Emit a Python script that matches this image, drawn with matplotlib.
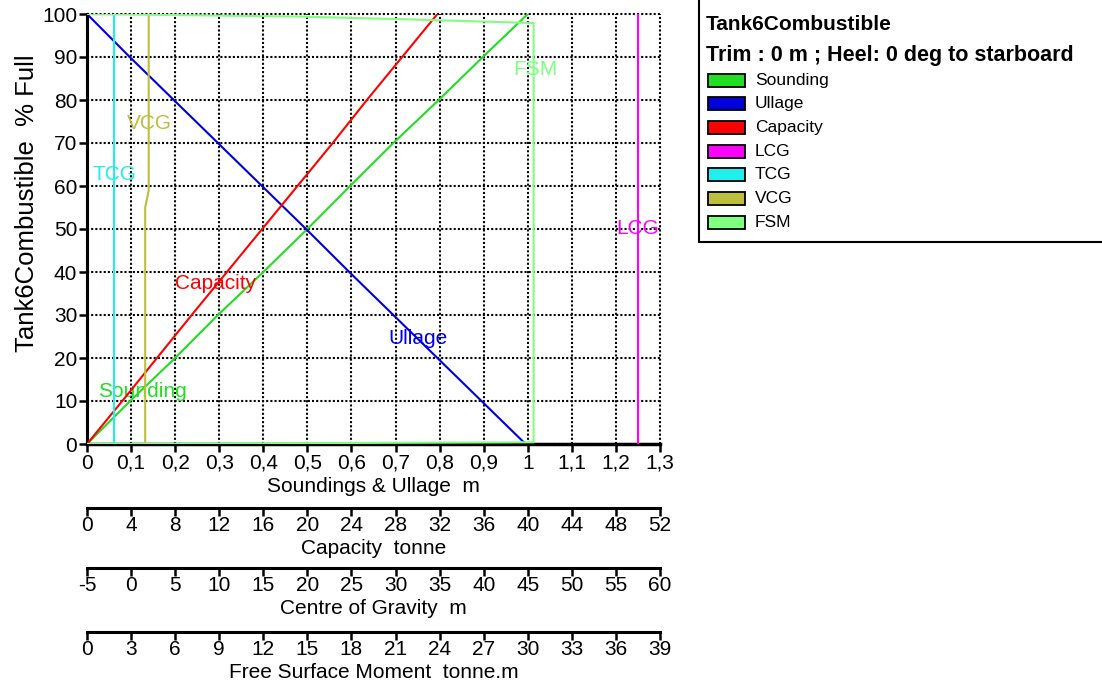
import matplotlib
matplotlib.use("Agg")
import matplotlib.pyplot as plt
from matplotlib.patches import Rectangle

plt.rcParams['font.family'] = ['Liberation Sans', 'DejaVu Sans']

# ---- data ----
pct_full = [0, 10, 20, 30, 40, 50, 60, 70, 80, 90, 100]
sounding_m = [0.0, 0.098, 0.2, 0.297, 0.4, 0.5, 0.597, 0.695, 0.798, 0.898, 1.0]
ullage_m = [0.995, 0.895, 0.795, 0.695, 0.595, 0.497, 0.397, 0.297, 0.197, 0.097, 0.0]
capacity_t = [0.0, 3.2, 6.35, 9.5, 12.7, 15.9, 19.1, 22.3, 25.4, 28.6, 31.8]

cg_pct = [0, 55, 59, 100]
lcg_m = [57.5, 57.5, 57.5, 57.5]
tcg_m = [-1.9, -1.9, -1.9, -1.9]
vcg_m = [1.6, 1.6, 2.0, 2.0]

fsm_pct = [0, 0.4, 97.9, 98.8, 99.4, 100]
fsm_tm = [0.0, 30.4, 30.4, 21.3, 14.5, 0.0]

series_names = ["Sounding", "Ullage", "Capacity", "LCG", "TCG", "VCG", "FSM"]
series_colors = ["#22DD22", "#0000DD", "#FF0000", "#FF00FF", "#22EEEE", "#BDBD3F", "#80FF80"]
col = dict(zip(series_names, series_colors))

x_main_ticks = [i / 10 for i in range(14)]
x_main_labels = ["0", "0,1", "0,2", "0,3", "0,4", "0,5", "0,6", "0,7", "0,8", "0,9",
                 "1", "1,1", "1,2", "1,3"]
cap_ticks = list(range(0, 53, 4))
cog_ticks = list(range(-5, 61, 5))
fsm_ticks = list(range(0, 40, 3))
y_ticks = list(range(0, 101, 10))

tank_name = "Tank6Combustible"
subtitle = "Trim : 0 m ; Heel: 0 deg to starboard"

FS = 15
dot = (0, (1, 1))
W, H = 1102, 685

fig = plt.figure(figsize=(11.02, 6.85), dpi=100)
ax = fig.add_axes([87 / W, 1 - 444 / H, 573 / W, 430 / H])

ax.set_xlim(0, 1.3)
ax.set_ylim(0, 100)
ax.set_xticks(x_main_ticks)
ax.set_xticklabels(x_main_labels)
ax.set_yticks(y_ticks)
ax.grid(True, color="black", linestyle=dot, linewidth=1.5)
ax.set_axisbelow(True)
for gl in ax.get_xgridlines() + ax.get_ygridlines():
    gl.set_clip_on(False)
for s in ["top", "right"]:
    ax.spines[s].set_visible(False)
ax.spines["left"].set_linewidth(2.2)
ax.spines["bottom"].set_linewidth(2.5)
ax.tick_params(axis="both", labelsize=FS, length=6, width=1.8, pad=1)
ax.set_xlabel("Soundings & Ullage  m", fontsize=FS, labelpad=3)
fig.text(27 / W, 1 - 352 / H, tank_name + "  % Full", fontsize=18.5,
         rotation=90, ha="center", va="bottom")

ax.plot(sounding_m, pct_full, color=col["Sounding"], lw=1.5)
ax.plot(ullage_m, pct_full, color=col["Ullage"], lw=1.5)
ax.text(0.125, 12.3, "Sounding", color=col["Sounding"], fontsize=FS, ha="center", va="center")
ax.text(0.75, 24.6, "Ullage", color=col["Ullage"], fontsize=FS, ha="center", va="center")


def extra_axis(offset, lim, ticks, label):
    a = ax.twiny()
    a.set_xlim(*lim)
    a.xaxis.set_ticks_position("bottom")
    a.xaxis.set_label_position("bottom")
    a.spines["bottom"].set_position(("outward", offset))
    a.spines["bottom"].set_linewidth(2.2)
    for s in ["top", "left", "right"]:
        a.spines[s].set_visible(False)
    a.set_xticks(ticks)
    a.set_xticklabels([str(t) for t in ticks])
    a.tick_params(axis="x", labelsize=FS, length=6, width=1.8, pad=0)
    a.set_xlabel(label, fontsize=FS, labelpad=3)
    return a


ax_cap = extra_axis(46, (0, 52), cap_ticks, "Capacity  tonne")
ax_cog = extra_axis(89, (-5, 60), cog_ticks, "Centre of Gravity  m")
ax_fsm = extra_axis(135, (0, 39), fsm_ticks, "Free Surface Moment  tonne.m")

ax_cap.plot(capacity_t, pct_full, color=col["Capacity"], lw=1.5)
ax_cap.text(11.7, 37.4, "Capacity", color=col["Capacity"], fontsize=FS, ha="center", va="center")

ax_cog.plot(lcg_m, cg_pct, color=col["LCG"], lw=1.5)
ax_cog.plot(tcg_m, cg_pct, color=col["TCG"], lw=1.5)
ax_cog.plot(vcg_m, cg_pct, color=col["VCG"], lw=1.5)
ax_cog.text(57.5, 50, "LCG", color=col["LCG"], fontsize=FS, ha="center", va="center")
ax_cog.text(-1.9, 62.6, "TCG", color=col["TCG"], fontsize=FS, ha="center", va="center")
ax_cog.text(2.1, 74.6, "VCG", color=col["VCG"], fontsize=FS, ha="center", va="center")

ax_fsm.plot(fsm_tm, fsm_pct, color=col["FSM"], lw=1.5)
ax_fsm.text(30.5, 87.2, "FSM", color=col["FSM"], fontsize=FS, ha="center", va="center")

# legend box drawn in pixel-based figure coordinates
fig.patches.append(Rectangle((699 / W, 1 - 242 / H), 420 / W, 245 / H, transform=fig.transFigure,
                             facecolor="white", edgecolor="black", linewidth=1.5, clip_on=False))
fig.text(706 / W, 1 - 24 / H, tank_name, fontsize=FS, fontweight="bold", va="center")
fig.text(706 / W, 1 - 55 / H, subtitle, fontsize=15.5, fontweight="bold", va="center")
for i, (name, c) in enumerate(zip(series_names, series_colors)):
    yc = 80 + i * 23.7
    fig.patches.append(Rectangle((708 / W, 1 - (yc + 6.5) / H), 37 / W, 13 / H,
                                 transform=fig.transFigure, facecolor=c,
                                 edgecolor="black", linewidth=1.3))
    fig.text(755 / W, 1 - yc / H, name, fontsize=12.5, va="center")

fig.savefig("out.png", dpi=100)
